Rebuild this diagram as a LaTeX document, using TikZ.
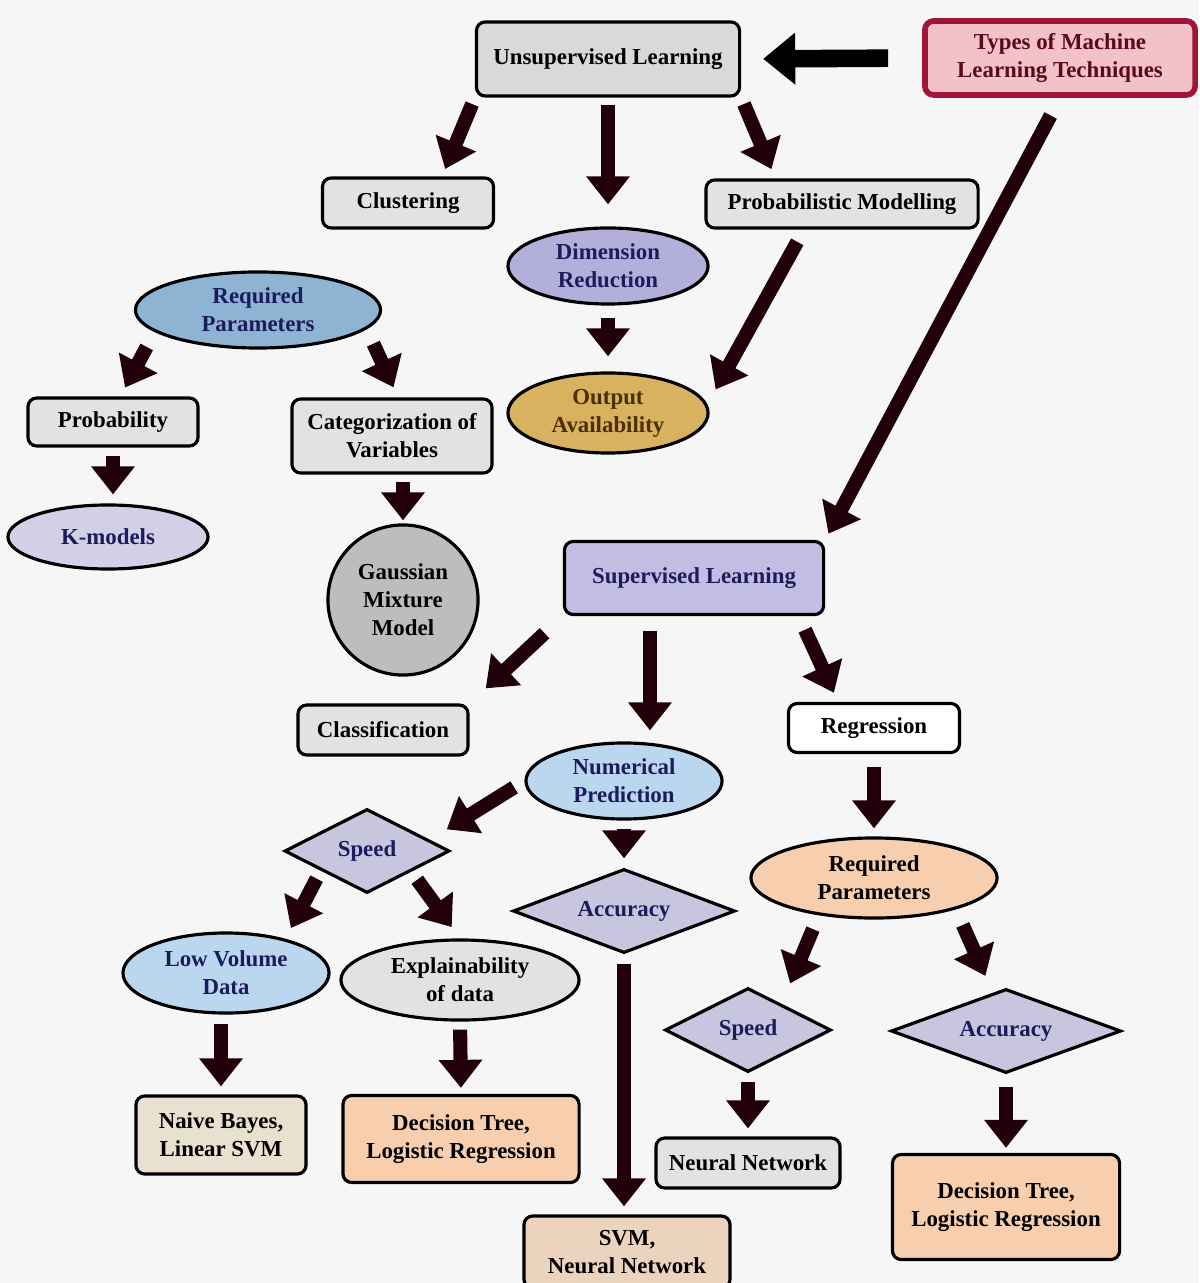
\documentclass[tikz,border=0pt]{standalone}
\usepackage{fontspec}
\setmainfont{Liberation Serif}
\usetikzlibrary{shapes.geometric,arrows.meta}
\definecolor{bgc}{HTML}{F6F6F6}
\definecolor{gryA}{HTML}{D9D9D9}
\definecolor{gryB}{HTML}{E2E2E2}
\definecolor{gryC}{HTML}{BDBDBD}
\definecolor{typespink}{HTML}{F3C2C6}
\definecolor{typesred}{HTML}{A01638}
\definecolor{typestext}{HTML}{5A0A1E}
\definecolor{lavA}{HTML}{B3AFDB}
\definecolor{lavB}{HTML}{C4BDE3}
\definecolor{lavgray}{HTML}{D2CFE6}
\definecolor{steel}{HTML}{8FB3D3}
\definecolor{navy}{HTML}{1C1C5C}
\definecolor{gold}{HTML}{D8B25E}
\definecolor{brownT}{HTML}{4A3000}
\definecolor{skyA}{HTML}{BBD7F0}
\definecolor{peach}{HTML}{F7CFAE}
\definecolor{sand}{HTML}{E9E1CF}
\definecolor{peachgray}{HTML}{EBD3BE}
\definecolor{decfill}{HTML}{C8C5DE}
\definecolor{arrdark}{HTML}{22000A}
\tikzset{
	every node/.style={font=\bfseries\fontsize{6.5}{8}\selectfont, align=center},
	box/.style={rectangle, draw, line width=0.9pt, rounded corners=2.5pt, fill=gryB, inner sep=1pt},
	oval/.style={ellipse, draw, line width=0.9pt, fill=gryB, inner sep=0pt},
	dec/.style={diamond, draw, line width=0.9pt, fill=decfill, text=navy, shape aspect=2.5, inner sep=0.5pt},
	arr/.style={draw=arrdark, line width=4pt, -{Triangle[length=0.28cm,width=0.42cm]}},
	arrbig/.style={draw=black, line width=5pt, -{Triangle[length=0.32cm,width=0.5cm]}}
}

\begin{document}
\begin{tikzpicture}[x=0.01cm,y=-0.01cm]
	\path[use as bounding box, fill=bgc] (0,0) rectangle (1199,1283);

	\node[box, fill=gryA, minimum width=2.63cm, minimum height=0.74cm] (unsup) at (608,59) {Unsupervised Learning};
	\node[box, draw=typesred, line width=1.6pt, fill=typespink, text=typestext, minimum width=2.70cm, minimum height=0.74cm] (types) at (1060,58) {Types of Machine\\Learning Techniques};
	\node[box, minimum width=1.71cm, minimum height=0.50cm] (clust) at (408,203) {Clustering};
	\node[box, minimum width=2.72cm, minimum height=0.48cm] (probmod) at (842,204) {Probabilistic Modelling};
	\node[oval, fill=lavA, text=navy, minimum width=2.0cm, minimum height=0.76cm] (dimred) at (608,266) {Dimension\\Reduction};
	\node[oval, fill=steel, text=navy, minimum width=2.45cm, minimum height=0.76cm] (reqA) at (258,310) {Required\\Parameters};
	\node[box, minimum width=1.70cm, minimum height=0.48cm] (probab) at (113,422) {Probability};
	\node[box, minimum width=2.0cm, minimum height=0.74cm] (catvar) at (392,436) {Categorization of\\Variables};
	\node[oval, fill=gold, text=brownT, minimum width=2.0cm, minimum height=0.80cm] (output) at (608,413) {Output\\Availability};
	\node[oval, fill=lavgray, text=navy, minimum width=2.0cm, minimum height=0.64cm] (kmod) at (108,537) {K-models};
	\node[circle, draw, line width=0.9pt, fill=gryC, minimum size=1.5cm, inner sep=0pt] (gmm) at (403,600) {Gaussian\\Mixture\\Model};

	\node[box, fill=lavB, text=navy, minimum width=2.59cm, minimum height=0.73cm] (sup) at (694,578) {Supervised Learning};
	\node[box, minimum width=1.70cm, minimum height=0.50cm] (classif) at (383,730) {Classification};
	\node[box, fill=white, minimum width=1.71cm, minimum height=0.49cm] (regr) at (874,728) {Regression};
	\node[oval, fill=skyA, text=navy, minimum width=1.96cm, minimum height=0.76cm] (numpred) at (624,781) {Numerical\\Prediction};
	\node[dec, minimum width=1.65cm, minimum height=0.84cm] (speedA) at (367,851) {Speed};
	\node[dec, minimum width=2.22cm, minimum height=0.84cm] (accA) at (624,911) {Accuracy};
	\node[oval, fill=peach, minimum width=2.46cm, minimum height=0.80cm] (reqB) at (874,878) {Required\\Parameters};
	\node[oval, fill=skyA, text=navy, minimum width=2.06cm, minimum height=0.80cm] (lowvol) at (226,973) {Low Volume\\Data};
	\node[oval, minimum width=2.38cm, minimum height=0.80cm] (explain) at (460,980) {Explainability\\of data};
	\node[dec, minimum width=1.66cm, minimum height=0.84cm] (speedB) at (748,1030) {Speed};
	\node[dec, minimum width=2.30cm, minimum height=0.84cm] (accB) at (1006,1031) {Accuracy};
	\node[box, fill=sand, minimum width=1.70cm, minimum height=0.78cm] (naive) at (221,1135) {Naive Bayes,\\Linear SVM};
	\node[box, fill=peach, minimum width=2.36cm, minimum height=0.87cm] (dtreeA) at (461,1139) {Decision Tree,\\Logistic Regression};
	\node[box, minimum width=1.84cm, minimum height=0.50cm] (neural) at (748,1163) {Neural Network};
	\node[box, fill=peach, minimum width=2.27cm, minimum height=1.05cm] (dtreeB) at (1006,1207) {Decision Tree,\\Logistic Regression};
	\node[box, fill=peachgray, minimum width=2.06cm, minimum height=0.72cm] (svmnn) at (627,1252) {SVM,\\Neural Network};

	\draw[arrbig, shorten <=0.34cm, shorten >=0.22cm] (types.west) -- (unsup.east);
	\draw[arr, shorten <=0.2cm, shorten >=0.07cm] (types.south) -- (sup.north east);
	\draw[arr, shorten <=0.07cm, shorten >=0.08cm] (unsup.south west) -- (clust.38);
	\draw[arr, shorten <=0.07cm, shorten >=0.22cm] (unsup.south) -- (dimred.north);
	\draw[arr, shorten <=0.07cm, shorten >=0.1cm] (unsup.south east) -- (probmod.159);
	\draw[arr, shorten <=0.14cm, shorten >=0.17cm] (probmod.214) -- (output.5);
	\draw[arr, shorten <=0.12cm, shorten >=0.15cm] (dimred.south) -- (output.north);
	\draw[arr, shorten <=0.17cm, shorten >=0.1cm] (reqA.192) -- (probab.74);
	\draw[arr, shorten <=0.16cm, shorten >=0.11cm] (reqA.-10) -- (catvar.81);
	\draw[arr, shorten <=0.08cm, shorten >=0.09cm] (probab.south) -- (probab.south |- kmod.north);
	\draw[arr, shorten <=0.07cm, shorten >=0.03cm] (gmm.north |- catvar.south) -- (gmm.north);
	\draw[arr, shorten <=0.25cm, shorten >=0.22cm] (sup.south west) -- (classif.north east);
	\draw[arr, shorten <=0.15cm, shorten >=0.11cm] ([xshift=-0.44cm]sup.south) -- ([xshift=-0.44cm]sup.south |- numpred.north);
	\draw[arr, shorten <=0.15cm, shorten >=0.1cm] (sup.-20) -- (regr.144);
	\draw[arr, shorten <=0.13cm, shorten >=0.08cm] (regr.south) -- (reqB.north);
	\draw[arr, shorten <=0.12cm, shorten >=0.2cm] (numpred.west) -- (speedA.10);
	\draw[arr, shorten <=0.08cm, shorten >=0.09cm] (numpred.south) -- (accA.north);
	\draw[arr, shorten <=0.09cm, shorten >=0.12cm] (speedA.203) -- (lowvol.30);
	\draw[arr, shorten <=0.1cm, shorten >=0.14cm] (speedA.-25) -- (explain.north);
	\draw[arr, shorten <=0.09cm, shorten >=0.08cm] (accA.south) -- (accA.south |- svmnn.north);
	\draw[arr, shorten <=0.15cm, shorten >=0.22cm] (reqB.214) -- (speedB.38);
	\draw[arr, shorten <=0.17cm, shorten >=0.18cm] (reqB.-21) -- (accB.109);
	\draw[arr, shorten <=0.09cm, shorten >=0.08cm] (naive.north |- lowvol.south) -- (naive.north);
	\draw[arr, shorten <=0.08cm, shorten >=0.06cm] (explain.south) -- (dtreeA.north);
	\draw[arr, shorten <=0.08cm, shorten >=0.08cm] (speedB.south) -- (neural.north);
	\draw[arr, shorten <=0.12cm, shorten >=0.05cm] (accB.south) -- (dtreeB.north);
\end{tikzpicture}
\end{document}
